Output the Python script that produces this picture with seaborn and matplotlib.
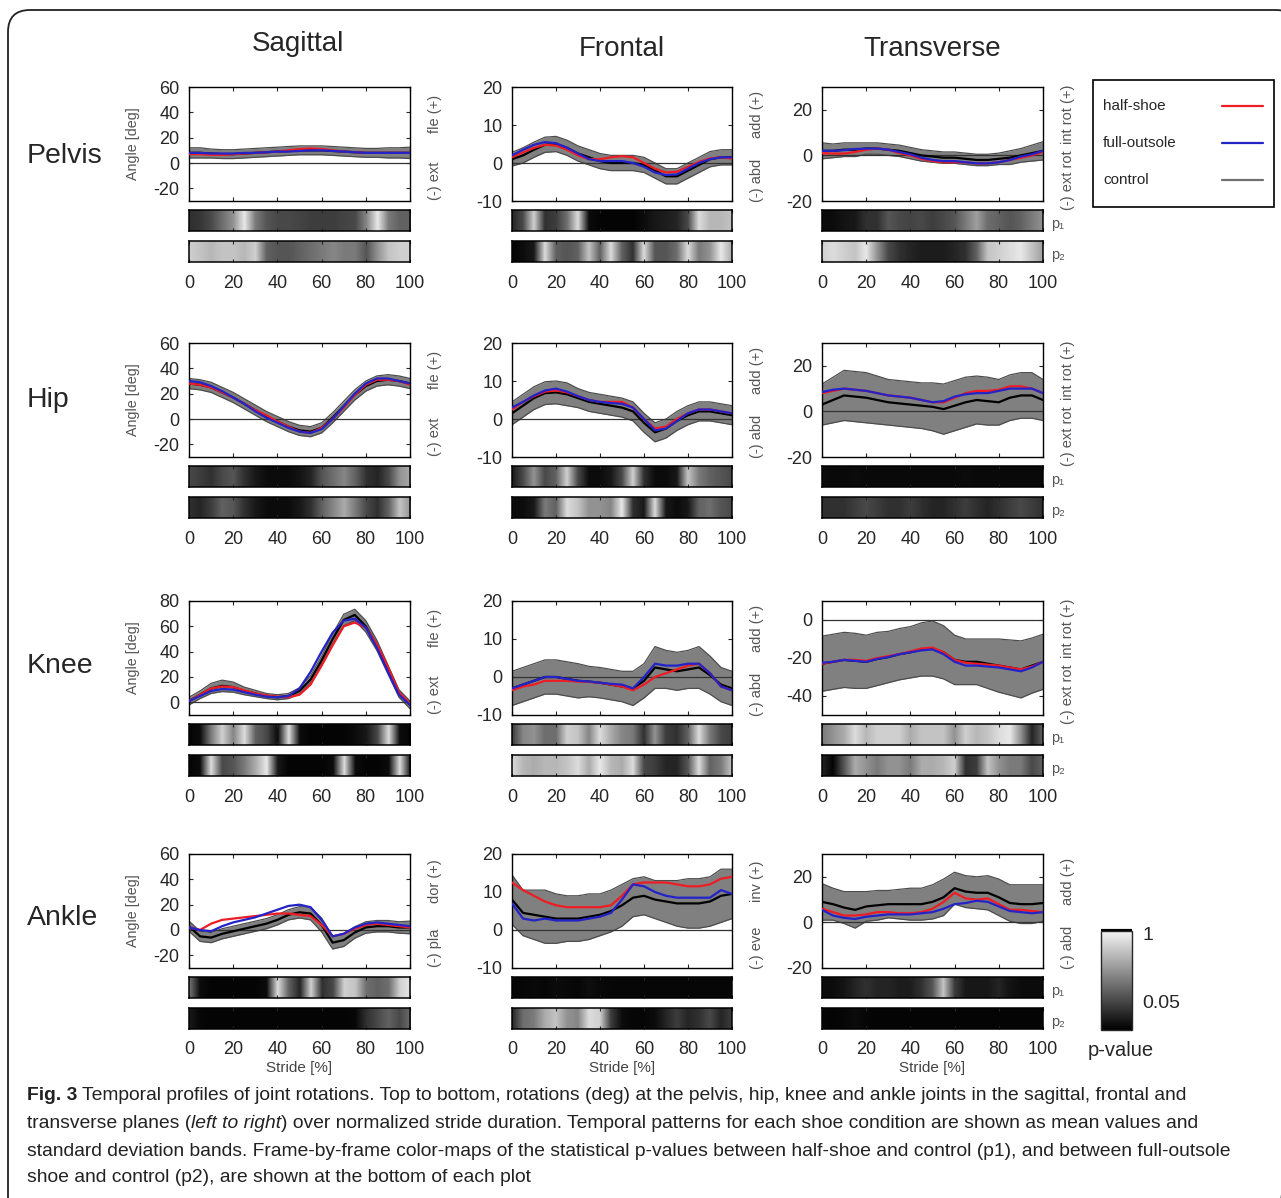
import numpy as np
import pandas as pd
import seaborn as sns
import matplotlib.pyplot as plt
from matplotlib import font_manager
from matplotlib.colors import LinearSegmentedColormap, Normalize
from matplotlib.cm import ScalarMappable
from matplotlib.patches import FancyBboxPatch, Rectangle

# stride axis (percent of gait cycle), one sample every 5 %
stride = [0, 5, 10, 15, 20, 25, 30, 35, 40, 45, 50, 55, 60, 65, 70, 75, 80, 85, 90, 95, 100]

# ---- Pelvis ----
pel_sag_ctrl = [8, 8, 7.5, 7, 7, 7.5, 8, 8.5, 9, 9.5, 10, 10, 10, 9.5, 9, 8.5, 8, 8, 8, 8, 8]
pel_sag_sd = [4, 4, 3.5, 3.5, 3.5, 3.5, 3.5, 3.5, 3.5, 3.5, 3.5, 3.5, 3.5, 3.5, 3.5, 3.5, 3.5, 3.5, 4, 4, 4.5]
pel_sag_half = [7, 7, 6.5, 6.5, 7, 7.5, 8, 8.5, 9, 10, 11, 11.5, 11, 10, 9, 8.5, 8, 8, 8, 8, 8]
pel_sag_full = [8, 8, 7.5, 7.5, 7.5, 8, 8, 8.5, 9, 9, 9.5, 10, 10, 9.5, 9, 8.5, 8, 8, 8, 8, 8]
pel_sag_p1 = [0.2, 0.22, 0.3, 0.45, 0.6, 0.95, 0.5, 0.35, 0.3, 0.3, 0.28, 0.25, 0.25, 0.25, 0.28, 0.3, 0.55, 0.95, 0.5, 0.4, 0.4]
pel_sag_p2 = [0.85, 0.8, 0.75, 0.8, 0.8, 0.75, 0.85, 0.4, 0.35, 0.35, 0.4, 0.45, 0.5, 0.55, 0.5, 0.5, 0.35, 0.6, 0.8, 0.85, 0.85]

pel_fro_ctrl = [1, 2, 3.5, 4.8, 5, 4, 2.5, 1.5, 0.5, 0, 0, 0, -0.5, -2, -3.5, -3.5, -2, -0.5, 1, 1.5, 1.5]
pel_fro_sd = [1.8, 2, 2, 2, 2, 2, 2, 2, 2, 2, 2, 2, 2, 2, 2, 2, 2, 2, 2, 2, 2]
pel_fro_half = [1.5, 2.8, 4, 4.8, 4.6, 3.5, 2, 1, 1, 1.5, 1.8, 1.5, 0, -1.5, -2.5, -2.3, -1, 0.3, 1.2, 1.5, 1.2]
pel_fro_full = [2, 3.5, 4.8, 5.5, 5.2, 4, 2.5, 1, 0.5, 0.5, 0.5, 0, -1, -2.5, -3.2, -3, -1.5, 0, 1, 1.5, 1.5]
pel_fro_p1 = [0.15, 0.3, 0.85, 0.2, 0.25, 0.45, 0.9, 0.05, 0.02, 0.02, 0.02, 0.02, 0.05, 0.1, 0.12, 0.15, 0.3, 0.9, 0.75, 0.75, 0.8]
pel_fro_p2 = [0.02, 0.05, 0.1, 0.9, 0.4, 0.35, 0.4, 0.8, 0.4, 0.9, 0.4, 0.2, 0.9, 0.35, 0.35, 0.45, 0.9, 0.5, 0.6, 0.95, 0.7]

pel_tra_ctrl = [2, 2, 2.5, 2.5, 3, 3, 2.5, 2, 1, 0, -0.5, -1, -1, -1.5, -2, -2, -1.5, -1, 0, 1, 2]
pel_tra_sd = [3.5, 3, 3, 3, 2.5, 2.5, 2.5, 2.5, 2.5, 2.5, 2.5, 2.5, 2.5, 2.5, 2.5, 2.5, 2.5, 3, 3, 3.5, 4]
pel_tra_half = [1, 0.8, 0.8, 1.5, 2.5, 3, 2.5, 1, 0, -1.5, -2.5, -3, -3, -3, -3.5, -3.5, -3, -2, -1, 0, 1.5]
pel_tra_full = [2, 2, 2.3, 2.8, 3, 3, 2.5, 1.5, 0.5, -1, -2, -2.5, -2.5, -3, -3.5, -3.5, -3, -2, -0.5, 0.5, 2]
pel_tra_p1 = [0.05, 0.05, 0.08, 0.1, 0.2, 0.2, 0.35, 0.3, 0.28, 0.3, 0.25, 0.3, 0.35, 0.5, 0.65, 0.45, 0.4, 0.35, 0.4, 0.5, 0.6]
pel_tra_p2 = [0.85, 0.9, 0.85, 0.8, 0.95, 0.6, 0.3, 0.2, 0.15, 0.12, 0.12, 0.12, 0.15, 0.2, 0.4, 0.8, 0.85, 0.9, 0.95, 0.8, 0.65]

# ---- Hip ----
hip_sag_ctrl = [28, 27, 25, 21, 17, 12, 7, 2, -2, -6, -9, -10, -7, 1, 10, 19, 26, 30, 31, 30, 28]
hip_sag_sd = [4, 4, 4, 4, 4, 4, 4, 4, 4, 4, 4, 4, 4, 4, 4, 4, 4, 4, 4, 4, 4]
hip_sag_half = [28, 27, 25, 21, 17, 12, 7, 3, -2, -6, -10, -11, -7, 0, 9, 19, 27, 31, 31, 30, 27]
hip_sag_full = [30, 29, 26, 22, 17, 12, 6, 1, -3, -7, -10, -11, -8, 0, 10, 20, 28, 32, 32, 30, 28]
hip_sag_p1 = [0.3, 0.25, 0.2, 0.3, 0.35, 0.2, 0.1, 0.05, 0.05, 0.05, 0.08, 0.15, 0.35, 0.45, 0.55, 0.4, 0.2, 0.15, 0.3, 0.6, 0.7]
hip_sag_p2 = [0.2, 0.15, 0.25, 0.4, 0.35, 0.2, 0.1, 0.05, 0.05, 0.05, 0.1, 0.2, 0.4, 0.55, 0.7, 0.5, 0.3, 0.2, 0.4, 0.8, 0.6]

hip_fro_ctrl = [1.5, 3.5, 5.5, 6.8, 7, 6.5, 5.5, 4.5, 4, 3.5, 3, 2, -1, -3.5, -2.5, -0.5, 1, 2, 2, 1.5, 1]
hip_fro_sd = [3, 3, 3, 3, 3, 3, 2.5, 2.5, 2.5, 2.5, 2.5, 2.5, 2.5, 2.5, 2.5, 2.5, 2.5, 2.5, 2.5, 2.5, 2.5]
hip_fro_half = [2.5, 4.5, 6, 7.2, 7.5, 7, 6, 5, 4.5, 4.5, 4.5, 3, 0, -2.5, -2, 0, 1.5, 2.5, 2.5, 2, 1.5]
hip_fro_full = [3, 4.5, 6.2, 7.5, 8, 7.2, 6, 5, 4.5, 4.2, 4, 3, 0, -3, -2.5, -0.5, 1.5, 2.5, 2.5, 2, 1.5]
hip_fro_p1 = [0.1, 0.3, 0.6, 0.3, 0.4, 0.85, 0.3, 0.05, 0.05, 0.1, 0.3, 0.85, 0.2, 0.05, 0.05, 0.1, 0.8, 0.5, 0.4, 0.35, 0.3]
hip_fro_p2 = [0.05, 0.05, 0.1, 0.5, 0.4, 0.9, 0.8, 0.6, 0.6, 0.55, 0.95, 0.2, 0.1, 0.9, 0.1, 0.05, 0.1, 0.4, 0.45, 0.35, 0.3]

hip_tra_ctrl = [3, 5, 7, 6.5, 6, 5, 4, 3.5, 3, 2.5, 2, 1, 2.5, 4, 5, 4.5, 4, 6, 7, 7, 5]
hip_tra_sd = [9, 10, 11, 11, 11, 10.5, 10, 10, 10, 10, 10.5, 11, 11, 11, 10.5, 10.5, 10, 10, 10, 10, 9]
hip_tra_half = [8, 9, 10, 9.5, 9, 8, 7, 6.5, 6, 5, 4, 4, 6, 8, 9, 9, 9.5, 11, 11, 10, 8]
hip_tra_full = [8.5, 9.5, 10, 9.5, 9, 8, 7, 6.5, 6, 5, 4, 4.5, 6.5, 7.5, 8, 8, 9, 10, 10, 10, 8]
hip_tra_p1 = [0.05, 0.04, 0.04, 0.05, 0.04, 0.04, 0.04, 0.04, 0.04, 0.04, 0.04, 0.04, 0.04, 0.05, 0.04, 0.04, 0.04, 0.04, 0.04, 0.04, 0.04]
hip_tra_p2 = [0.2, 0.2, 0.2, 0.25, 0.3, 0.25, 0.2, 0.2, 0.25, 0.2, 0.15, 0.15, 0.2, 0.25, 0.2, 0.15, 0.2, 0.25, 0.3, 0.25, 0.2]

# ---- Knee ----
kne_sag_ctrl = [1, 6, 11, 13, 12, 9, 7, 5, 4, 5, 9, 18, 33, 50, 65, 69, 60, 45, 26, 7, -2]
kne_sag_sd = [3, 3, 4, 4.5, 4, 3, 2.5, 2, 2, 2, 2.5, 3, 3.5, 4, 4.5, 4.5, 4.5, 4, 3.5, 3, 3]
kne_sag_half = [1, 6, 11, 12.5, 12, 9.5, 7, 5.5, 4.5, 4, 6, 14, 29, 45, 60, 63, 59, 46, 28, 8, -1]
kne_sag_full = [1, 5, 9, 10.5, 10, 8, 6, 4.5, 4, 5, 11, 24, 40, 55, 64.5, 66, 59, 43, 24, 6, -2]
kne_sag_p1 = [0.02, 0.05, 0.5, 0.85, 0.55, 0.9, 0.4, 0.3, 0.05, 0.9, 0.05, 0.02, 0.02, 0.02, 0.02, 0.05, 0.1, 0.3, 0.9, 0.05, 0.02]
kne_sag_p2 = [0.02, 0.05, 0.9, 0.3, 0.35, 0.5, 0.7, 0.95, 0.1, 0.02, 0.02, 0.02, 0.02, 0.05, 0.9, 0.05, 0.02, 0.02, 0.05, 0.9, 0.05]

kne_fro_ctrl = [-3, -2, -1, 0, 0, -0.5, -1, -1.2, -1.5, -2, -2.5, -3, -1, 2.5, 2, 1.5, 2, 2.5, 0.5, -2, -3]
kne_fro_sd = [4.5, 4.5, 4.5, 4.5, 4.5, 4.5, 4.5, 4, 4, 4, 4, 4.5, 4.5, 5.5, 5, 5, 5, 5.5, 5, 4.5, 4.5]
kne_fro_half = [-3.5, -2.5, -2, -1, -1, -1, -1.2, -1.3, -1.5, -2, -2.5, -3.5, -2, 0, 1, 2, 3, 3.5, 1, -2.5, -3.5]
kne_fro_full = [-3, -2, -1, 0, 0, -0.5, -1, -1.2, -1.5, -1.8, -2, -3, 0, 3.5, 3, 3, 3.5, 3.5, 1, -2.5, -3.5]
kne_fro_p1 = [0.25, 0.55, 0.6, 0.45, 0.45, 0.85, 0.8, 0.55, 0.9, 0.7, 0.55, 0.5, 0.2, 0.6, 0.25, 0.2, 0.4, 0.9, 0.5, 0.3, 0.25]
kne_fro_p2 = [0.9, 0.75, 0.7, 0.75, 0.75, 0.8, 0.9, 0.7, 0.95, 0.75, 0.7, 0.9, 0.3, 0.25, 0.15, 0.15, 0.35, 0.9, 0.4, 0.5, 0.8]

kne_tra_ctrl = [-23, -22, -21, -21.5, -22, -20.5, -19.5, -18, -17, -15.5, -15, -17, -21, -22, -22, -23, -24, -25, -26, -24, -22]
kne_tra_sd = [14.5, 14.5, 14.5, 14.5, 14, 14, 13.5, 13.5, 13.5, 14, 14.5, 14, 13, 12, 12, 13, 14, 14.5, 15, 14.5, 14.5]
kne_tra_half = [-23, -22, -21, -21, -21.5, -20, -19, -18, -16.5, -15, -14.5, -17, -21, -22.5, -23, -23.5, -24, -25, -26, -24.5, -22]
kne_tra_full = [-22.5, -22, -21, -21.5, -22, -20.5, -19.5, -18, -17, -16, -15.5, -18, -22, -24, -24, -24.5, -25, -26, -27, -25, -22]
kne_tra_p1 = [0.5, 0.6, 0.7, 0.9, 0.75, 0.85, 0.85, 0.85, 0.7, 0.8, 0.8, 0.8, 0.6, 0.85, 0.75, 0.8, 0.9, 0.95, 0.6, 0.15, 0.4]
kne_tra_p2 = [0.15, 0.02, 0.35, 0.7, 0.6, 0.5, 0.6, 0.6, 0.5, 0.7, 0.7, 0.75, 0.85, 0.2, 0.25, 0.8, 0.6, 0.5, 0.5, 0.3, 0.4]

# ---- Ankle ----
ank_sag_ctrl = [3, -5, -6, -3, -1, 1, 3, 5, 8, 12, 14, 13, 4, -10, -8, -2, 2, 3, 3, 2, 2]
ank_sag_sd = [4, 4, 4, 4, 4, 4, 4, 4, 4, 4, 4.5, 5, 5.5, 5, 5, 4.5, 4.5, 4.5, 4.5, 4.5, 5]
ank_sag_half = [2, 0, 5, 8, 9, 10, 11, 12, 13, 13, 12, 11, 4, -5, -3, 1, 4, 5, 4, 3, 2]
ank_sag_full = [2, 0, -1, 3, 6, 8, 10, 13, 16, 19, 20, 18, 8, -5, -3, 2, 5, 6, 5, 4, 3]
ank_sag_p1 = [0.5, 0.05, 0.02, 0.02, 0.02, 0.02, 0.02, 0.05, 0.9, 0.4, 0.15, 0.85, 0.2, 0.3, 0.85, 0.8, 0.45, 0.4, 0.45, 0.85, 0.95]
ank_sag_p2 = [0.1, 0.03, 0.02, 0.02, 0.02, 0.02, 0.02, 0.02, 0.02, 0.02, 0.02, 0.02, 0.02, 0.02, 0.02, 0.03, 0.2, 0.3, 0.4, 0.3, 0.45]

ank_fro_ctrl = [8, 4.5, 4, 3.5, 3, 3, 3, 3.5, 4, 5, 6.5, 8.5, 9, 8, 7.5, 7, 7, 7, 7.5, 9, 9.5]
ank_fro_sd = [6.5, 6, 6.5, 7, 6.5, 6, 6, 6, 5.5, 5.5, 5.5, 5, 5, 5, 5.5, 6, 6.5, 6.5, 6.5, 7, 6.5]
ank_fro_half = [12.5, 10.5, 9, 7.5, 6.5, 6, 6, 6, 6, 6.5, 9, 12, 12.5, 12.5, 12.5, 12, 11.5, 11.5, 12, 13.5, 14]
ank_fro_full = [7, 3, 2.5, 3, 2.5, 2.5, 2.5, 3, 3.5, 4.5, 8, 12, 11.5, 10, 9, 8.5, 8.5, 8.5, 8.5, 10.5, 9.5]
ank_fro_p1 = [0.03, 0.03, 0.04, 0.03, 0.05, 0.04, 0.03, 0.06, 0.04, 0.03, 0.03, 0.03, 0.03, 0.03, 0.03, 0.03, 0.03, 0.03, 0.03, 0.03, 0.03]
ank_fro_p2 = [0.15, 0.45, 0.5, 0.7, 0.8, 0.6, 0.55, 0.9, 0.85, 0.25, 0.05, 0.03, 0.03, 0.05, 0.15, 0.25, 0.15, 0.2, 0.3, 0.15, 0.25]

ank_tra_ctrl = [9, 8, 6.5, 5.5, 7, 7.5, 8, 8, 8, 8, 9, 11, 15, 13.5, 13, 13, 11, 8.5, 8, 8, 8.5]
ank_tra_sd = [8, 7, 7, 8, 6.5, 6.5, 6, 6.5, 7, 7, 7.5, 8, 7, 7, 7, 7.5, 8, 8, 8.5, 8.5, 8]
ank_tra_half = [6, 4.5, 3, 3, 3.5, 4.5, 4.5, 4, 4, 4.5, 6, 9, 13, 10.5, 10, 10.5, 8, 5.5, 5.5, 5, 4.5]
ank_tra_full = [5.5, 3, 2, 1.5, 2.5, 3, 3.5, 3.5, 3.5, 4, 4.5, 6, 8, 8.5, 9.5, 9, 7, 5, 4.5, 4, 4.5]
ank_tra_p1 = [0.05, 0.05, 0.08, 0.15, 0.2, 0.15, 0.15, 0.12, 0.12, 0.2, 0.35, 0.8, 0.25, 0.1, 0.1, 0.1, 0.15, 0.08, 0.05, 0.05, 0.05]
ank_tra_p2 = [0.03, 0.02, 0.03, 0.05, 0.03, 0.02, 0.02, 0.02, 0.02, 0.02, 0.02, 0.02, 0.02, 0.02, 0.02, 0.02, 0.02, 0.02, 0.02, 0.02, 0.02]

joints = ["Pelvis", "Hip", "Knee", "Ankle"]
planes = ["Sagittal", "Frontal", "Transverse"]
conditions = ["control", "half-shoe", "full-outsole"]

panels = [
    [(pel_sag_ctrl, pel_sag_sd, pel_sag_half, pel_sag_full, pel_sag_p1, pel_sag_p2),
     (pel_fro_ctrl, pel_fro_sd, pel_fro_half, pel_fro_full, pel_fro_p1, pel_fro_p2),
     (pel_tra_ctrl, pel_tra_sd, pel_tra_half, pel_tra_full, pel_tra_p1, pel_tra_p2)],
    [(hip_sag_ctrl, hip_sag_sd, hip_sag_half, hip_sag_full, hip_sag_p1, hip_sag_p2),
     (hip_fro_ctrl, hip_fro_sd, hip_fro_half, hip_fro_full, hip_fro_p1, hip_fro_p2),
     (hip_tra_ctrl, hip_tra_sd, hip_tra_half, hip_tra_full, hip_tra_p1, hip_tra_p2)],
    [(kne_sag_ctrl, kne_sag_sd, kne_sag_half, kne_sag_full, kne_sag_p1, kne_sag_p2),
     (kne_fro_ctrl, kne_fro_sd, kne_fro_half, kne_fro_full, kne_fro_p1, kne_fro_p2),
     (kne_tra_ctrl, kne_tra_sd, kne_tra_half, kne_tra_full, kne_tra_p1, kne_tra_p2)],
    [(ank_sag_ctrl, ank_sag_sd, ank_sag_half, ank_sag_full, ank_sag_p1, ank_sag_p2),
     (ank_fro_ctrl, ank_fro_sd, ank_fro_half, ank_fro_full, ank_fro_p1, ank_fro_p2),
     (ank_tra_ctrl, ank_tra_sd, ank_tra_half, ank_tra_full, ank_tra_p1, ank_tra_p2)],
]

ylims = [[(-30, 60), (-10, 20), (-20, 30)],
         [(-30, 60), (-10, 20), (-20, 30)],
         [(-10, 80), (-10, 20), (-50, 10)],
         [(-30, 60), (-10, 20), (-20, 30)]]
yticks = [[[-20, 0, 20, 40, 60], [-10, 0, 10, 20], [-20, 0, 20]],
          [[-20, 0, 20, 40, 60], [-10, 0, 10, 20], [-20, 0, 20]],
          [[0, 20, 40, 60, 80], [-10, 0, 10, 20], [-40, -20, 0]],
          [[-20, 0, 20, 40, 60], [-10, 0, 10, 20], [-20, 0, 20]]]
side_labels = [[("fle (+)", "(-) ext"), ("add (+)", "(-) abd"), ("int rot (+)", "(-) ext rot")],
               [("fle (+)", "(-) ext"), ("add (+)", "(-) abd"), ("int rot (+)", "(-) ext rot")],
               [("fle (+)", "(-) ext"), ("add (+)", "(-) abd"), ("int rot (+)", "(-) ext rot")],
               [("dor (+)", "(-) pla"), ("inv (+)", "(-) eve"), ("add (+)", "(-) abd")]]

colors = {"control": "black", "half-shoe": "#ee1c24", "full-outsole": "#2323c8"}

sns.set_style("ticks")
plt.rcParams["font.family"] = ["Liberation Sans", "DejaVu Sans"]
plt.rcParams["axes.unicode_minus"] = False
plt.rcParams["axes.linewidth"] = 1.0

W, H = 1281, 1198
fig = plt.figure(figsize=(W / 100, H / 100), dpi=100)


def rect(x0, y0, x1, y1):
    return [x0 / W, 1 - y1 / H, (x1 - x0) / W, (y1 - y0) / H]


# background axes in pixel coordinates for free text and frame
bg = fig.add_axes([0, 0, 1, 1], zorder=-5)
bg.set_xlim(0, W)
bg.set_ylim(H, 0)
bg.axis("off")
bg.add_patch(FancyBboxPatch((8, 10), 1290, 1210, boxstyle="round,pad=0,rounding_size=22",
                            fill=False, ec="#222222", lw=1.3))

cmap = LinearSegmentedColormap.from_list("pval", ["#000000", "#f4f4f4"])

col_x = [(189, 410), (512, 732), (822, 1043)]
row_top = [87, 343, 601, 854]
row_label_y = [156, 400, 666, 918]
grey_txt = "#555555"

for j, title in enumerate(planes):
    xc = (col_x[j][0] + col_x[j][1]) / 2
    bg.text(xc + (-2 if j == 0 else 0), 51 if j == 0 else 56, title, ha="center",
            va="baseline", fontsize=20)

for i, joint in enumerate(joints):
    bg.text(27, row_label_y[i], joint, ha="left", va="center", fontsize=20.5)

for i in range(4):
    for j in range(3):
        ctrl, sd, half, full, p1, p2 = panels[i][j]
        x0, x1 = col_x[j]
        top = row_top[i]
        ax = fig.add_axes(rect(x0, top, x1, top + 114))
        lo = np.array(ctrl) - np.array(sd)
        hi = np.array(ctrl) + np.array(sd)
        ax.fill_between(stride, lo, hi, color="#808080", lw=0, zorder=1)
        ax.plot(stride, lo, color="#4d4d4d", lw=0.9, zorder=1.5)
        ax.plot(stride, hi, color="#4d4d4d", lw=0.9, zorder=1.5)
        ax.axhline(0, color="#333333", lw=0.9, zorder=2)
        df = pd.DataFrame({
            "stride": stride * 3,
            "angle": list(ctrl) + list(half) + list(full),
            "condition": ["control"] * 21 + ["half-shoe"] * 21 + ["full-outsole"] * 21,
        })
        sns.lineplot(data=df, x="stride", y="angle", hue="condition", hue_order=conditions,
                     palette=colors, linewidth=1.6, legend=False, ax=ax, zorder=3)
        ax.set_xlim(0, 100)
        ax.set_ylim(*ylims[i][j])
        ax.set_yticks(yticks[i][j])
        ax.set_xticks([0, 20, 40, 60, 80, 100])
        ax.set_xlabel("")
        ax.set_ylabel("")
        ax.tick_params(direction="in", length=3, top=True, right=True, labelbottom=False,
                       labelsize=13, pad=7, width=0.8)
        for s in ax.spines.values():
            s.set_color("black")

        up, dn = side_labels[i][j]
        ax.text(1.0 + 25 / 221, 0.76, up, transform=ax.transAxes, rotation=90, ha="center",
                va="center", fontsize=10.5, color=grey_txt)
        ax.text(1.0 + 25 / 221, 0.18, dn, transform=ax.transAxes, rotation=90, ha="center",
                va="center", fontsize=10.5, color=grey_txt)
        if j == 0:
            ax.text(-56 / 221, 0.5, "Angle [deg]", transform=ax.transAxes, rotation=90,
                    ha="center", va="center", fontsize=10.3, color=grey_txt)

        for k, (pv, y0) in enumerate([(p1, top + 123), (p2, top + 154)]):
            pax = fig.add_axes(rect(x0, y0, x1, y0 + 21))
            pax.imshow(np.array(pv)[None, :], cmap=cmap, vmin=0, vmax=1, aspect="auto",
                       interpolation="bilinear", extent=(-2.5, 102.5, 0, 1))
            pax.set_xlim(0, 100)
            pax.set_ylim(0, 1)
            pax.set_yticks([])
            pax.set_xticks([0, 20, 40, 60, 80, 100])
            pax.tick_params(direction="in", length=2.5, top=True, width=0.8,
                            labelbottom=(k == 1), labelsize=13, pad=9)
            for s in pax.spines.values():
                s.set_color("black")
                s.set_linewidth(1.1)
            if j == 2:
                pax.text(1.0 + 8 / 221, 0.35, "p₁" if k == 0 else "p₂", transform=pax.transAxes,
                         ha="left", va="center", fontsize=10.5, color=grey_txt)
            if k == 1 and i == 3:
                pax.text(0.5, -1.85, "Stride [%]", transform=pax.transAxes, ha="center",
                         va="center", fontsize=11, color="#444444")

# legend box
bg.add_patch(Rectangle((1093, 80), 181, 127, fill=False, ec="black", lw=1.2))
for k, (name, yy) in enumerate(zip(["half-shoe", "full-outsole", "control"], [106, 143, 180])):
    bg.text(1103, yy, name, ha="left", va="center", fontsize=11)
    lc = colors[name] if name != "control" else "#707070"
    bg.plot([1222, 1263], [yy, yy], color=lc, lw=1.6)

# p-value colour bar
cax = fig.add_axes(rect(1101, 931, 1132, 1030))
cb = fig.colorbar(ScalarMappable(norm=Normalize(0, 1), cmap=cmap), cax=cax)
cb.set_ticks([])
cb.outline.set_linewidth(1.0)
bg.plot([1101, 1132], [931, 931], color="black", lw=3, solid_capstyle="butt")
bg.text(1142, 935, "1", ha="left", va="center", fontsize=14)
bg.text(1142, 1003, "0.05", ha="left", va="center", fontsize=14)
bg.text(1088, 1050, "p-value", ha="left", va="center", fontsize=14.5)

# caption
names = {f.name for f in font_manager.fontManager.ttflist}
cap_font = next((n for n in ["Liberation Sans Narrow", "DejaVu Sans Condensed", "Liberation Sans"]
                 if n in names), "DejaVu Sans")
caption = [
    [("Fig. 3", "bold", "normal"),
     (" Temporal profiles of joint rotations. Top to bottom, rotations (deg) at the pelvis, hip, knee and ankle joints in the sagittal, frontal and", "normal", "normal")],
    [("transverse planes (", "normal", "normal"), ("left to right", "normal", "italic"),
     (") over normalized stride duration. Temporal patterns for each shoe condition are shown as mean values and", "normal", "normal")],
    [("standard deviation bands. Frame-by-frame color-maps of the statistical p-values between half-shoe and control (p1), and between full-outsole", "normal", "normal")],
    [("shoe and control (p2), are shown at the bottom of each plot", "normal", "normal")],
]
cap_y = [1095, 1123, 1151, 1178]
renderer = fig.canvas.get_renderer()


def draw_line(pieces, y, fs, keep=True):
    x = 27
    items = []
    for s, wt, st in pieces:
        t = bg.text(x, y, s, ha="left", va="center", fontsize=fs, fontweight=wt,
                    fontstyle=st, family=[cap_font, "DejaVu Sans"], color="#222222")
        x += t.get_window_extent(renderer).width
        items.append(t)
    if not keep:
        for t in items:
            t.remove()
    return x - 27


widest = max(draw_line(p, y, 12, keep=False) for p, y in zip(caption, cap_y))
cap_fs = 12 * 1208 / widest
for pieces, y in zip(caption, cap_y):
    draw_line(pieces, y, cap_fs)

fig.savefig("out.png", dpi=100)
